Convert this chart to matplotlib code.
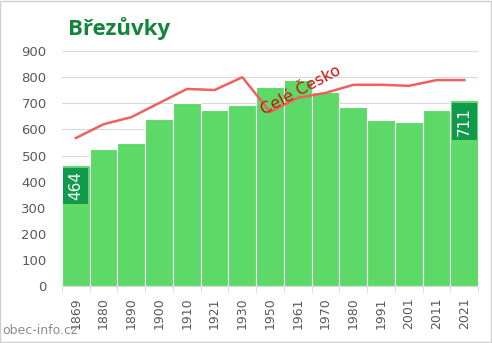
import matplotlib.pyplot as plt
from matplotlib.patches import Rectangle

years = ["1869", "1880", "1890", "1900", "1910", "1921", "1930", "1950",
         "1961", "1970", "1980", "1991", "2001", "2011", "2021"]
pop = [464, 525, 548, 640, 701, 673, 692, 763, 790, 745, 684, 636, 628, 674, 711]
cesko = [567, 620, 647, 701, 755, 751, 800, 667, 721, 740, 771, 771, 767, 789, 789]

bar_col = "#5cd966"
dark = "#119a4c"
grid_col = "#d9d9d9"
text_col = "#595959"

fig = plt.figure(figsize=(4.92, 3.43), dpi=100)
ax = fig.add_axes([0.126, 0.166, 0.846, 0.685])
x = list(range(len(years)))

ax.bar(x, pop, width=1.0, color=bar_col, edgecolor="white", linewidth=0.8, zorder=2)
ax.plot(x, cesko, color="#f06060", linewidth=1.8, zorder=3)

# value boxes on first and last bar
for i in (0, len(pop) - 1):
    top = pop[i] - 10
    h = 140
    ax.add_patch(Rectangle((i - 0.45, top - h), 0.9, h, facecolor=dark,
                           edgecolor="none", zorder=4))
    ax.text(i, top - h / 2, str(pop[i]), rotation=90, ha="center", va="center",
            color="white", fontsize=11, zorder=5)

ax.text(8.1, 750, "Celé Česko", rotation=28, ha="center", va="center",
        color="#cc1111", fontsize=11.5, zorder=5)

ax.set_xlim(-0.5, len(years) - 0.5)
ax.set_ylim(0, 900)
ax.set_yticks(range(0, 901, 100))
ax.yaxis.grid(True, color=grid_col, linewidth=0.8, zorder=0)
ax.set_axisbelow(True)
ax.set_xticks(x)
ax.set_xticklabels(years, rotation=90, fontsize=9, color=text_col)
ax.tick_params(axis="y", length=0, labelsize=9.5, labelcolor=text_col, pad=11)
ax.tick_params(axis="x", length=0, pad=8)
# small tick marks at bar boundaries
ax.set_xticks([i - 0.5 for i in range(len(years) + 1)], minor=True)
ax.tick_params(axis="x", which="minor", length=5, color=grid_col)
for s in ["top", "right", "left"]:
    ax.spines[s].set_visible(False)
ax.spines["bottom"].set_color(grid_col)

fig.text(0.138, 0.918, "Březůvky", fontsize=16, fontweight="bold", color="#12843c",
         va="center", family="Open Sans")
fig.text(0.004, 0.035, "obec-info.cz", fontsize=9, color="#8c8c8c", va="center")
fig.patches.append(Rectangle((0.001, 0.002), 0.997, 0.995, transform=fig.transFigure,
                             fill=False, edgecolor="#d0d0d0", linewidth=1))

fig.savefig("out.png", dpi=100)
